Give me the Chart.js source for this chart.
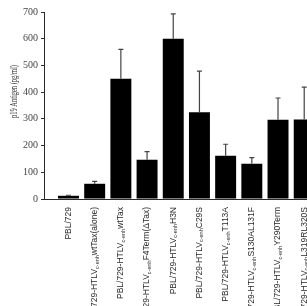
<!DOCTYPE html>
<html>
<head>
<meta charset="utf-8">
<script src="https://cdn.jsdelivr.net/npm/chart.js@4"></script>
<style>
  html, body { margin: 0; padding: 0; background: #fff; }
  #wrap { width: 307px; height: 306px; overflow: hidden; position: relative; }
  canvas { display: block; }
</style>
</head>
<body>
<div id="wrap"><canvas id="chart" width="360" height="306"></canvas></div>
<script>
// tick labels: [prefix, subscript, suffix]
const labels = [
  ['PBL/729', '', ''],
  ['729-HTLV', 'c-enh', 'wtTax(alone)'],
  ['PBL/729-HTLV', 'c-enh', 'wtTax'],
  ['729-HTLV', 'c-enh', 'F4Term(\u0394Tax)'],
  ['PBL/729-HTLV', 'c-enh', 'H3N'],
  ['PBL/729-HTLV', 'c-enh', 'C29S'],
  ['PBL/729-HTLV', 'c-enh', 'T113A'],
  ['PBL/729-HTLV', 'c-enh', 'S130AL131F'],
  ['PBL/729-HTLV', 'c-enh', 'Y290Term'],
  ['PBL/729-HTLV', 'c-enh', 'L319RL320S'],
];
const values = [12, 57, 450, 147, 600, 325, 162, 132, 297, 298];
const errors = [2, 9, 110, 30, 93, 154, 43, 23, 81, 121];
const yTicks = [0, 100, 200, 300, 400, 500, 600, 700];
const yTitle = 'p19 Antigen (pg/ml)';

const INK = '#2a2a2a';

// error bars (upper only) and rotated labels with subscripts
const extras = {
  id: 'extras',
  afterDatasetsDraw(chart) {
    const ctx = chart.ctx;
    const xs = chart.scales.x;
    const ys = chart.scales.y;

    ctx.save();
    ctx.strokeStyle = '#444';
    ctx.lineWidth = 1.2;
    values.forEach((v, i) => {
      const x = xs.getPixelForValue(i + 1);
      const y0 = ys.getPixelForValue(v);
      const y1 = ys.getPixelForValue(v + errors[i]);
      ctx.beginPath();
      ctx.moveTo(x, y0);
      ctx.lineTo(x, y1);
      ctx.moveTo(x - 2.5, y1);
      ctx.lineTo(x + 2.5, y1);
      ctx.stroke();
    });
    ctx.restore();

    // x labels, rotated, ending just below the axis
    const top = chart.chartArea.bottom + 8;
    const mainFont = '8.5px "Liberation Sans", Arial, sans-serif';
    const subFont = '5.5px "Liberation Sans", Arial, sans-serif';
    labels.forEach((parts, i) => {
      const x = xs.getPixelForValue(i + 1);
      ctx.save();
      ctx.fillStyle = INK;
      ctx.textBaseline = 'middle';
      ctx.textAlign = 'left';
      ctx.translate(x, top);
      ctx.rotate(-Math.PI / 2);
      ctx.font = mainFont;
      const w0 = ctx.measureText(parts[0]).width;
      const w2 = ctx.measureText(parts[2]).width;
      ctx.font = subFont;
      const w1 = ctx.measureText(parts[1]).width;
      let cx = -(w0 + w1 + w2);
      ctx.font = mainFont;
      ctx.fillText(parts[0], cx, 0);
      cx += w0;
      ctx.font = subFont;
      ctx.fillText(parts[1], cx, 2.5);
      cx += w1;
      ctx.font = mainFont;
      ctx.fillText(parts[2], cx, 0);
      ctx.restore();
    });

    // y axis title (squeezed like the source figure)
    ctx.save();
    ctx.fillStyle = INK;
    ctx.font = '11px "Liberation Serif", "Times New Roman", serif';
    ctx.textAlign = 'center';
    ctx.textBaseline = 'middle';
    const tw = ctx.measureText(yTitle).width;
    ctx.translate(14, 91.5);
    ctx.rotate(-Math.PI / 2);
    ctx.scale(53 / tw, 1);
    ctx.fillText(yTitle, 0, 0);
    ctx.restore();
  }
};

new Chart(document.getElementById('chart'), {
  type: 'bar',
  data: {
    datasets: [{
      data: values.map((v, i) => ({ x: i + 1, y: v })),
      backgroundColor: '#000',
      borderWidth: 0,
      barPercentage: 0.8,
      categoryPercentage: 1,
    }],
  },
  options: {
    responsive: false,
    animation: false,
    events: [],
    layout: { padding: { top: 12, bottom: 107, left: 0, right: 0 } },
    plugins: {
      legend: { display: false },
      tooltip: { enabled: false },
    },
    scales: {
      x: {
        type: 'linear',
        offset: false,
        min: 0.065,
        max: 12.13,
        ticks: { display: false },
        grid: { display: false, drawTicks: false, offset: false },
        border: { display: true, color: INK, width: 1 },
      },
      y: {
        min: 0,
        max: 700,
        afterFit(scale) { scale.width = 44; },
        afterBuildTicks(scale) { scale.ticks = yTicks.map(v => ({ value: v })); },
        ticks: {
          color: '#444',
          padding: 3,
          font: { family: '"Liberation Serif", "Times New Roman", serif', size: 10 },
        },
        grid: { drawOnChartArea: false, drawTicks: true, tickLength: 3, color: INK },
        border: { display: true, color: INK, width: 1 },
        title: { display: false },
      },
    },
  },
  plugins: [extras],
});
</script>
</body>
</html>
